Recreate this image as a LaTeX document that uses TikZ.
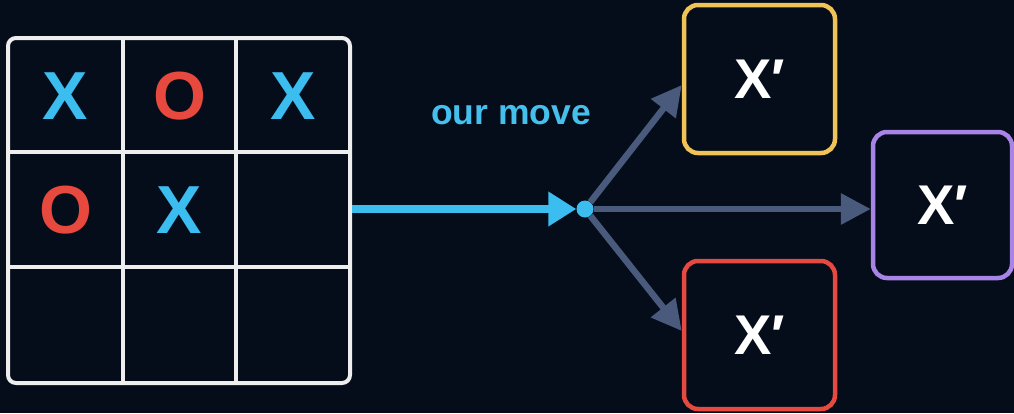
\documentclass[tikz,border=0pt]{standalone}
\usepackage{fontspec}
\setmainfont{Liberation Sans}
\usetikzlibrary{arrows.meta}
\definecolor{bg}{HTML}{050C1A}
\definecolor{xblue}{HTML}{3CBDF0}
\definecolor{lblue}{HTML}{45C0EC}
\definecolor{ored}{HTML}{E8493F}
\definecolor{gridw}{HTML}{EEEEEE}
\definecolor{branch}{HTML}{4A5A7C}
\definecolor{byel}{HTML}{EFC358}
\definecolor{bpur}{HTML}{A884E6}
\definecolor{bred}{HTML}{E5493F}
\tikzset{
  cellmark/.style={inner sep=0pt, font=\bfseries\fontsize{68}{70}\selectfont},
  xmark/.style={cellmark, text=xblue},
  omark/.style={cellmark, text=ored},
  statebox/.style={draw, line width=4.5pt, rounded corners=14pt, fill=bg,
    minimum width=151pt, minimum height=148pt, text=white,
    font=\bfseries\fontsize{56}{58}\selectfont},
  gridline/.style={gridw, line width=4pt},
  branchto/.style={branch, line width=6.5pt, -{Triangle[length=30pt,width=30pt]}},
}
\begin{document}
\begin{tikzpicture}[x=1pt,y=-1pt]
\fill[bg] (0,0) rectangle (1014,413);
\useasboundingbox (0,0) rectangle (1014,413);
% board
\node[draw=gridw, line width=4pt, rounded corners=8pt, minimum width=342pt, minimum height=345pt, inner sep=0pt] (board) at (179,210.5) {};
\draw[gridline] (123,38) -- (123,383) (236,38) -- (236,383);
\draw[gridline] (8,152) -- (350,152) (8,267) -- (350,267);
\node[xmark] (c11) at (65.5,96) {X};
\node[omark] (c12) at (179.5,96) {O};
\node[xmark] (c13) at (293,96) {X};
\node[omark] (c21) at (65.5,210) {O};
\node[xmark] (c22) at (179.5,210) {X};
% dot and move
\node[circle, fill=xblue, minimum size=17pt, inner sep=0pt] (dot) at (585,209) {};
\draw[xblue, line width=8pt, -{Triangle[length=28pt,width=33pt]}] (board.east |- dot) -- (dot.west);
\node[text=lblue, font=\bfseries\fontsize{35.5}{38}\selectfont] (lbl) at (511,115) {our move};
% result boxes
\node[statebox, draw=byel] (yel) at (759.5,79) {X′};
\node[statebox, draw=bred] (red) at (759.5,335) {X′};
\node[statebox, draw=bpur, minimum width=139pt, minimum height=146pt] (pur) at (942.5,205) {X′};
% branches
\draw[branchto] (dot) -- ([yshift=-6pt]yel.west);
\draw[branchto] (dot) -- ([yshift=4pt]red.west);
\draw[branchto] (dot) -- (dot -| pur.west);
\end{tikzpicture}
\end{document}
